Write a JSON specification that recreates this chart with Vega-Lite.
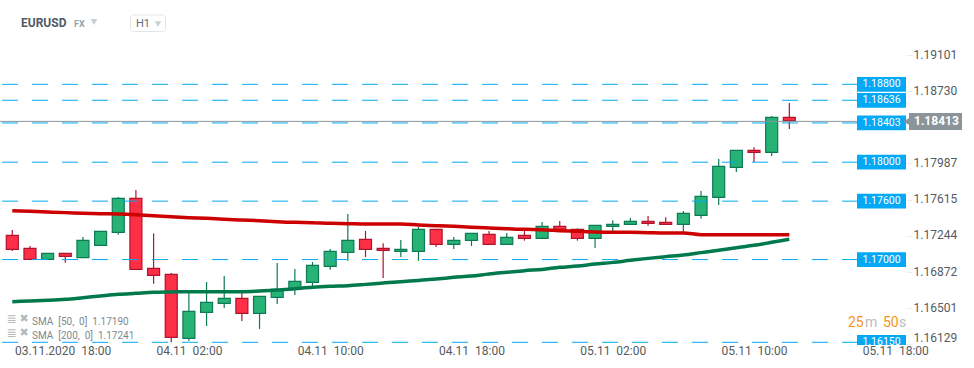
{"$schema":"https://vega.github.io/schema/vega-lite/v6.json","width":906,"height":345,"autosize":{"type":"none"},"padding":{"left":0,"top":0,"right":68,"bottom":23},"background":"white","config":{"view":{"stroke":null},"font":"Roboto","text":{"font":"Roboto"}},
"resolve":{"axis":{"y":"independent"}},
"datasets":{"candles":[
{"t":"2020-11-03T16:00:00Z","o":1.17249,"h":1.17303,"l":1.17088,"c":1.17105,"sma50":1.16567,"sma200":1.17502},
{"t":"2020-11-03T17:00:00Z","o":1.17115,"h":1.17139,"l":1.17002,"c":1.17002,"sma50":1.16574,"sma200":1.17495},
{"t":"2020-11-03T18:00:00Z","o":1.17002,"h":1.17064,"l":1.17002,"c":1.17064,"sma50":1.16581,"sma200":1.17488},
{"t":"2020-11-03T19:00:00Z","o":1.17064,"h":1.17064,"l":1.16968,"c":1.17033,"sma50":1.16591,"sma200":1.17482},
{"t":"2020-11-03T20:00:00Z","o":1.17019,"h":1.17232,"l":1.17019,"c":1.17197,"sma50":1.16608,"sma200":1.17475},
{"t":"2020-11-03T21:00:00Z","o":1.17146,"h":1.1729,"l":1.17146,"c":1.1729,"sma50":1.16626,"sma200":1.17471},
{"t":"2020-11-03T22:00:00Z","o":1.1728,"h":1.17642,"l":1.17256,"c":1.17629,"sma50":1.16643,"sma200":1.17468},
{"t":"2020-11-03T23:00:00Z","o":1.17629,"h":1.17714,"l":1.16899,"c":1.16899,"sma50":1.16653,"sma200":1.17461},
{"t":"2020-11-04T00:00:00Z","o":1.1691,"h":1.17269,"l":1.16752,"c":1.16838,"sma50":1.16663,"sma200":1.17451},
{"t":"2020-11-04T01:00:00Z","o":1.16848,"h":1.16862,"l":1.1615,"c":1.16201,"sma50":1.16667,"sma200":1.1744},
{"t":"2020-11-04T02:00:00Z","o":1.16191,"h":1.16663,"l":1.16163,"c":1.16468,"sma50":1.1667,"sma200":1.1743},
{"t":"2020-11-04T03:00:00Z","o":1.16458,"h":1.16769,"l":1.16317,"c":1.1656,"sma50":1.1667,"sma200":1.17423},
{"t":"2020-11-04T04:00:00Z","o":1.1655,"h":1.16831,"l":1.16502,"c":1.16602,"sma50":1.1667,"sma200":1.17413},
{"t":"2020-11-04T05:00:00Z","o":1.16602,"h":1.16663,"l":1.16369,"c":1.16447,"sma50":1.1667,"sma200":1.17406},
{"t":"2020-11-04T06:00:00Z","o":1.16447,"h":1.16622,"l":1.16287,"c":1.16622,"sma50":1.16677,"sma200":1.17399},
{"t":"2020-11-04T07:00:00Z","o":1.16612,"h":1.16965,"l":1.16543,"c":1.16694,"sma50":1.16687,"sma200":1.17389},
{"t":"2020-11-04T08:00:00Z","o":1.16694,"h":1.16903,"l":1.16636,"c":1.16776,"sma50":1.16701,"sma200":1.17382},
{"t":"2020-11-04T09:00:00Z","o":1.16766,"h":1.16975,"l":1.16728,"c":1.16941,"sma50":1.16715,"sma200":1.17379},
{"t":"2020-11-04T10:00:00Z","o":1.1693,"h":1.17108,"l":1.16896,"c":1.17084,"sma50":1.16725,"sma200":1.17372},
{"t":"2020-11-04T11:00:00Z","o":1.17074,"h":1.17468,"l":1.16988,"c":1.17197,"sma50":1.16732,"sma200":1.17369},
{"t":"2020-11-04T12:00:00Z","o":1.17208,"h":1.17293,"l":1.17026,"c":1.17105,"sma50":1.16745,"sma200":1.17365},
{"t":"2020-11-04T13:00:00Z","o":1.17115,"h":1.17167,"l":1.1681,"c":1.17095,"sma50":1.16759,"sma200":1.17365},
{"t":"2020-11-04T14:00:00Z","o":1.17084,"h":1.17201,"l":1.17026,"c":1.17105,"sma50":1.16773,"sma200":1.17365},
{"t":"2020-11-04T15:00:00Z","o":1.17084,"h":1.17334,"l":1.16988,"c":1.1731,"sma50":1.16786,"sma200":1.17355},
{"t":"2020-11-04T16:00:00Z","o":1.1731,"h":1.1731,"l":1.17129,"c":1.17156,"sma50":1.168,"sma200":1.17348},
{"t":"2020-11-04T17:00:00Z","o":1.17156,"h":1.17232,"l":1.17108,"c":1.17197,"sma50":1.16817,"sma200":1.17341},
{"t":"2020-11-04T18:00:00Z","o":1.17197,"h":1.17269,"l":1.17139,"c":1.17269,"sma50":1.16831,"sma200":1.17331},
{"t":"2020-11-04T19:00:00Z","o":1.17259,"h":1.17293,"l":1.17156,"c":1.17156,"sma50":1.16852,"sma200":1.17324},
{"t":"2020-11-04T20:00:00Z","o":1.17156,"h":1.17273,"l":1.17156,"c":1.17228,"sma50":1.16869,"sma200":1.17317},
{"t":"2020-11-04T21:00:00Z","o":1.17249,"h":1.17303,"l":1.17194,"c":1.17218,"sma50":1.16886,"sma200":1.1731},
{"t":"2020-11-04T22:00:00Z","o":1.17218,"h":1.17386,"l":1.17218,"c":1.17341,"sma50":1.16899,"sma200":1.17307},
{"t":"2020-11-04T23:00:00Z","o":1.17341,"h":1.17396,"l":1.1729,"c":1.1731,"sma50":1.1692,"sma200":1.17297},
{"t":"2020-11-05T00:00:00Z","o":1.1731,"h":1.17321,"l":1.17194,"c":1.17218,"sma50":1.16934,"sma200":1.1729},
{"t":"2020-11-05T01:00:00Z","o":1.17218,"h":1.17351,"l":1.17119,"c":1.17351,"sma50":1.16954,"sma200":1.17283},
{"t":"2020-11-05T02:00:00Z","o":1.17341,"h":1.17403,"l":1.1729,"c":1.17362,"sma50":1.16971,"sma200":1.1728},
{"t":"2020-11-05T03:00:00Z","o":1.17362,"h":1.17427,"l":1.17362,"c":1.17393,"sma50":1.16992,"sma200":1.1728},
{"t":"2020-11-05T04:00:00Z","o":1.17393,"h":1.17447,"l":1.17348,"c":1.17372,"sma50":1.17012,"sma200":1.17276},
{"t":"2020-11-05T05:00:00Z","o":1.17382,"h":1.17434,"l":1.17362,"c":1.17362,"sma50":1.1703,"sma200":1.17273},
{"t":"2020-11-05T06:00:00Z","o":1.17362,"h":1.17499,"l":1.17283,"c":1.17475,"sma50":1.17047,"sma200":1.17273},
{"t":"2020-11-05T07:00:00Z","o":1.17454,"h":1.17704,"l":1.1742,"c":1.17649,"sma50":1.17071,"sma200":1.17256},
{"t":"2020-11-05T08:00:00Z","o":1.17639,"h":1.18033,"l":1.1756,"c":1.17957,"sma50":1.17095,"sma200":1.17256},
{"t":"2020-11-05T09:00:00Z","o":1.17947,"h":1.18122,"l":1.17899,"c":1.18122,"sma50":1.17122,"sma200":1.17256},
{"t":"2020-11-05T10:00:00Z","o":1.18122,"h":1.18153,"l":1.18002,"c":1.18101,"sma50":1.17146,"sma200":1.17256},
{"t":"2020-11-05T11:00:00Z","o":1.18101,"h":1.18474,"l":1.18063,"c":1.18461,"sma50":1.17177,"sma200":1.17256},
{"t":"2020-11-05T12:00:00Z","o":1.18461,"h":1.18608,"l":1.18341,"c":1.18426,"sma50":1.17208,"sma200":1.17256}
],
"levels":[{"level":1.188,"label":"1.18800"},{"level":1.18636,"label":"1.18636"},{"level":1.18403,"label":"1.18403"},{"level":1.18,"label":"1.18000"},{"level":1.176,"label":"1.17600"},{"level":1.17,"label":"1.17000"},{"level":1.1615,"label":"1.16150"}],
"current":[{"price":1.18413,"label":"1.18413"}]},
"layer":[
{"data":{"name":"candles"},"mark":{"type":"rule","strokeWidth":1.2},"encoding":{
"x":{"field":"t","type":"temporal","title":null,"scale":{"type":"utc","nice":false,"padding":0,"domain":[{"year":2020,"month":11,"date":3,"hours":15,"minutes":18,"seconds":13,"utc":true},{"year":2020,"month":11,"date":5,"hours":18,"minutes":36,"seconds":23,"utc":true}]},
"axis":{"values":[{"year":2020,"month":11,"date":3,"hours":18,"utc":true},{"year":2020,"month":11,"date":4,"hours":2,"utc":true},{"year":2020,"month":11,"date":4,"hours":10,"utc":true},{"year":2020,"month":11,"date":4,"hours":18,"utc":true},{"year":2020,"month":11,"date":5,"hours":2,"utc":true},{"year":2020,"month":11,"date":5,"hours":10,"utc":true},{"year":2020,"month":11,"date":5,"hours":18,"utc":true}],"labelExpr":"datum.index===0 ? utcFormat(datum.value,'%d.%m.%Y\u00a0\u00a0%H:%M') : utcFormat(datum.value,'%d.%m\u00a0\u00a0%H:%M')","domain":false,"grid":false,"ticks":false,"labelPadding":0,"labelFontSize":12,"labelColor":"#555b60","labelOverlap":false,"labelBound":false,"labelFlush":false,"labelOffset":{"condition":{"test":"datum.index===0","value":15},"value":0}}},
"y":{"field":"l","type":"quantitative","title":null,"scale":{"domain":[1.161223,1.19666],"zero":false,"nice":false},
"axis":{"orient":"right","values":[1.19101,1.1873,1.17987,1.17615,1.17244,1.16872,1.16501,1.16129],"format":".5f","domain":false,"grid":false,"tickSize":6,"tickColor":"#eeeeee","labelPadding":1,"labelFontSize":12,"labelColor":"#555b60","labelOverlap":false,"labelBound":false,"labelOffset":{"condition":{"test":"datum.value<1.162","value":-7},"value":-1}}},
"y2":{"field":"h"},
"stroke":{"condition":{"test":"datum.c>=datum.o","value":"#0e7a55"},"value":"#b0142c"}}},
{"data":{"name":"candles"},"mark":{"type":"bar","size":12,"strokeWidth":1.2},"encoding":{
"x":{"field":"t","type":"temporal"},
"y":{"field":"o","type":"quantitative","axis":null},"y2":{"field":"c"},
"fill":{"condition":{"test":"datum.c>=datum.o","value":"#27b376"},"value":"#fd2f47"},
"stroke":{"condition":{"test":"datum.c>=datum.o","value":"#0e7a55"},"value":"#b0142c"}}},
{"data":{"name":"levels"},"mark":{"type":"rule","stroke":"#03a9f4","strokeWidth":1,"strokeDash":[16,14]},"encoding":{"x":{"value":2},"x2":{"value":857},"y":{"field":"level","type":"quantitative","axis":null}}},
{"data":{"name":"candles"},"mark":{"type":"line","stroke":"#cc0000","strokeWidth":3.5,"interpolate":"monotone"},"encoding":{"x":{"field":"t","type":"temporal"},"y":{"field":"sma200","type":"quantitative","axis":null}}},
{"data":{"name":"candles"},"mark":{"type":"line","stroke":"#007a4d","strokeWidth":3.5,"interpolate":"monotone"},"encoding":{"x":{"field":"t","type":"temporal"},"y":{"field":"sma50","type":"quantitative","axis":null}}},
{"data":{"name":"current"},"mark":{"type":"rule","stroke":"#8a9499","strokeWidth":1,"yOffset":-0.6},"encoding":{"x":{"value":0},"x2":{"value":906},"y":{"field":"price","type":"quantitative","axis":null}}},
{"data":{"name":"levels"},"mark":{"type":"rule","stroke":"#03a9f4","strokeWidth":14.7,"clip":true},"encoding":{"x":{"value":857},"x2":{"value":906},"y":{"field":"level","type":"quantitative","axis":null}}},
{"data":{"name":"levels"},"mark":{"type":"text","color":"white","fontSize":10.5,"align":"center","baseline":"middle","clip":true},"encoding":{"x":{"value":881.5},"y":{"field":"level","type":"quantitative","axis":null},"text":{"field":"label"}}},
{"data":{"name":"current"},"mark":{"type":"rule","stroke":"#8a9499","strokeWidth":17,"yOffset":-0.6},"encoding":{"x":{"value":909},"x2":{"value":962},"y":{"field":"price","type":"quantitative","axis":null}}},
{"data":{"name":"current"},"mark":{"type":"point","shape":"triangle-left","filled":true,"color":"#8a9499","size":120,"opacity":1,"yOffset":-0.6},"encoding":{"x":{"value":908},"y":{"field":"price","type":"quantitative","axis":null}}},
{"data":{"name":"current"},"mark":{"type":"text","color":"white","fontSize":12,"fontWeight":"bold","align":"left","baseline":"middle","yOffset":-0.6},"encoding":{"x":{"value":914},"y":{"field":"price","type":"quantitative","axis":null},"text":{"field":"label"}}},
{"data":{"values":[{"t":"EURUSD"}]},"mark":{"type":"text","color":"#4f5b66","fontSize":12,"fontWeight":"bold","align":"left","baseline":"middle"},"encoding":{"x":{"value":21},"y":{"value":23},"text":{"field":"t"}}},
{"data":{"values":[{"t":"FX"}]},"mark":{"type":"text","color":"#8fa3b0","fontSize":9,"fontWeight":"bold","align":"left","baseline":"middle"},"encoding":{"x":{"value":74},"y":{"value":24},"text":{"field":"t"}}},
{"data":{"values":[{"x":"a"}]},"mark":{"type":"point","shape":"triangle-down","filled":true,"color":"#c9ced2","size":45,"opacity":1},"encoding":{"x":{"value":94},"y":{"value":22}}},
{"data":{"values":[{"t":"H1"}]},"mark":{"type":"text","color":"#666d72","fontSize":11,"align":"left","baseline":"middle"},"encoding":{"x":{"value":136},"y":{"value":24},"text":{"field":"t"}}},
{"data":{"values":[{"x":"a"}]},"mark":{"type":"point","shape":"triangle-down","filled":true,"color":"#c9ced2","size":40,"opacity":1},"encoding":{"x":{"value":158},"y":{"value":24}}},
{"data":{"values":[{"x":"a"}]},"mark":{"type":"rect","fill":"none","stroke":"#e3e6e8","cornerRadius":3,"strokeWidth":1},"encoding":{"x":{"value":130.5},"x2":{"value":165.5},"y":{"value":15},"y2":{"value":31.5}}},
{"data":{"values":[{"t":"SMA\u00a0\u00a0[50,\u00a0\u00a00]\u00a0\u00a01.17190"}]},"mark":{"type":"text","color":"#7d8a90","fontSize":10,"align":"left","baseline":"middle"},"encoding":{"x":{"value":32},"y":{"value":321.5},"text":{"field":"t"}}},
{"data":{"values":[{"t":"SMA\u00a0\u00a0[200,\u00a0\u00a00]\u00a0\u00a01.17241"}]},"mark":{"type":"text","color":"#7d8a90","fontSize":10,"align":"left","baseline":"middle"},"encoding":{"x":{"value":32},"y":{"value":335.5},"text":{"field":"t"}}},
{"data":{"values":[{"t":"≣"}]},"mark":{"type":"text","color":"#b4bbbf","fontSize":12,"font":"DejaVu Sans","align":"center","baseline":"middle"},"encoding":{"x":{"value":11.5},"y":{"value":319},"text":{"field":"t"}}},
{"data":{"values":[{"t":"≣"}]},"mark":{"type":"text","color":"#b4bbbf","fontSize":12,"font":"DejaVu Sans","align":"center","baseline":"middle"},"encoding":{"x":{"value":11.5},"y":{"value":332.5},"text":{"field":"t"}}},
{"data":{"values":[{"t":"✖"}]},"mark":{"type":"text","color":"#b4bbbf","fontSize":11,"font":"DejaVu Sans","align":"center","baseline":"middle"},"encoding":{"x":{"value":24},"y":{"value":319},"text":{"field":"t"}}},
{"data":{"values":[{"t":"✖"}]},"mark":{"type":"text","color":"#b4bbbf","fontSize":11,"font":"DejaVu Sans","align":"center","baseline":"middle"},"encoding":{"x":{"value":24},"y":{"value":333},"text":{"field":"t"}}},
{"data":{"values":[{"t":"25"}]},"mark":{"type":"text","color":"#f7941d","fontSize":14,"align":"left","baseline":"middle"},"encoding":{"x":{"value":848},"y":{"value":323},"text":{"field":"t"}}},
{"data":{"values":[{"t":"m"}]},"mark":{"type":"text","color":"#b9bec2","fontSize":14,"align":"left","baseline":"middle"},"encoding":{"x":{"value":865},"y":{"value":323},"text":{"field":"t"}}},
{"data":{"values":[{"t":"50"}]},"mark":{"type":"text","color":"#f7941d","fontSize":14,"align":"left","baseline":"middle"},"encoding":{"x":{"value":883},"y":{"value":323},"text":{"field":"t"}}},
{"data":{"values":[{"t":"s"}]},"mark":{"type":"text","color":"#b9bec2","fontSize":14,"align":"left","baseline":"middle"},"encoding":{"x":{"value":899},"y":{"value":323},"text":{"field":"t"}}}
]}
